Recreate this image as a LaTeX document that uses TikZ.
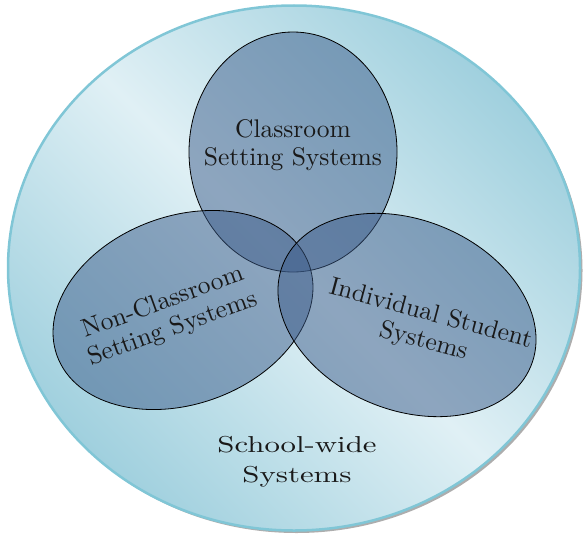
\documentclass[tikz,border=0pt]{standalone}
\usepackage{fontspec}
\usepackage{graphicx}
\setmainfont{lmroman10-regular.otf}
\usetikzlibrary{shapes.geometric,shadows}
\definecolor{rimblue}{RGB}{128,198,214}
\definecolor{paleblue}{RGB}{224,240,245}
\definecolor{seablue}{RGB}{160,208,222}
\definecolor{slateblue}{RGB}{60,92,138}
\newcommand{\widetext}[1]{\scalebox{1.34}[1.0]{#1}}
\begin{document}
\begin{tikzpicture}[x=1pt,y=-1pt,
    venn/.style={ellipse, draw, line width=0.8pt, fill=slateblue, fill opacity=0.5, inner sep=0pt},
    vtext/.style={align=center, text=black!90, font=\fontsize{25.5}{28}\selectfont}]
      \useasboundingbox (0,0) rectangle (583,535);

      \node[ellipse, minimum width=572pt, minimum height=525pt, draw=rimblue, line width=2.5pt,
        left color=seablue, right color=seablue, middle color=paleblue, shading angle=-45,
        drop shadow={shadow xshift=2.5pt, shadow yshift=-2.5pt, fill=gray!80, opacity=0.8}]
        (school) at (294,268) {};

      \node[venn, minimum width=208pt, minimum height=240pt] (classroom) at (293,152) {};
      \node[venn, minimum width=268pt, minimum height=188pt, rotate=20] (nonclass) at (183,310) {};
      \node[venn, minimum width=268pt, minimum height=190pt, rotate=-22.5] (student) at (407,315) {};

      \node[vtext] (classlbl) at (293,145) {Classroom\\Setting Systems};
      \node[vtext, rotate=20] (nonclasslbl) at (168,316) {Non-Classroom\\Setting Systems};
      \node[vtext, rotate=-15] (studentlbl) at (427,328) {Individual Student\\Systems};
      \node[vtext, font=\fontsize{23}{30}\selectfont] (schoollbl) at (297,462)
        {\widetext{School-wide}\\\widetext{Systems}};
    \end{tikzpicture}
\end{document}
